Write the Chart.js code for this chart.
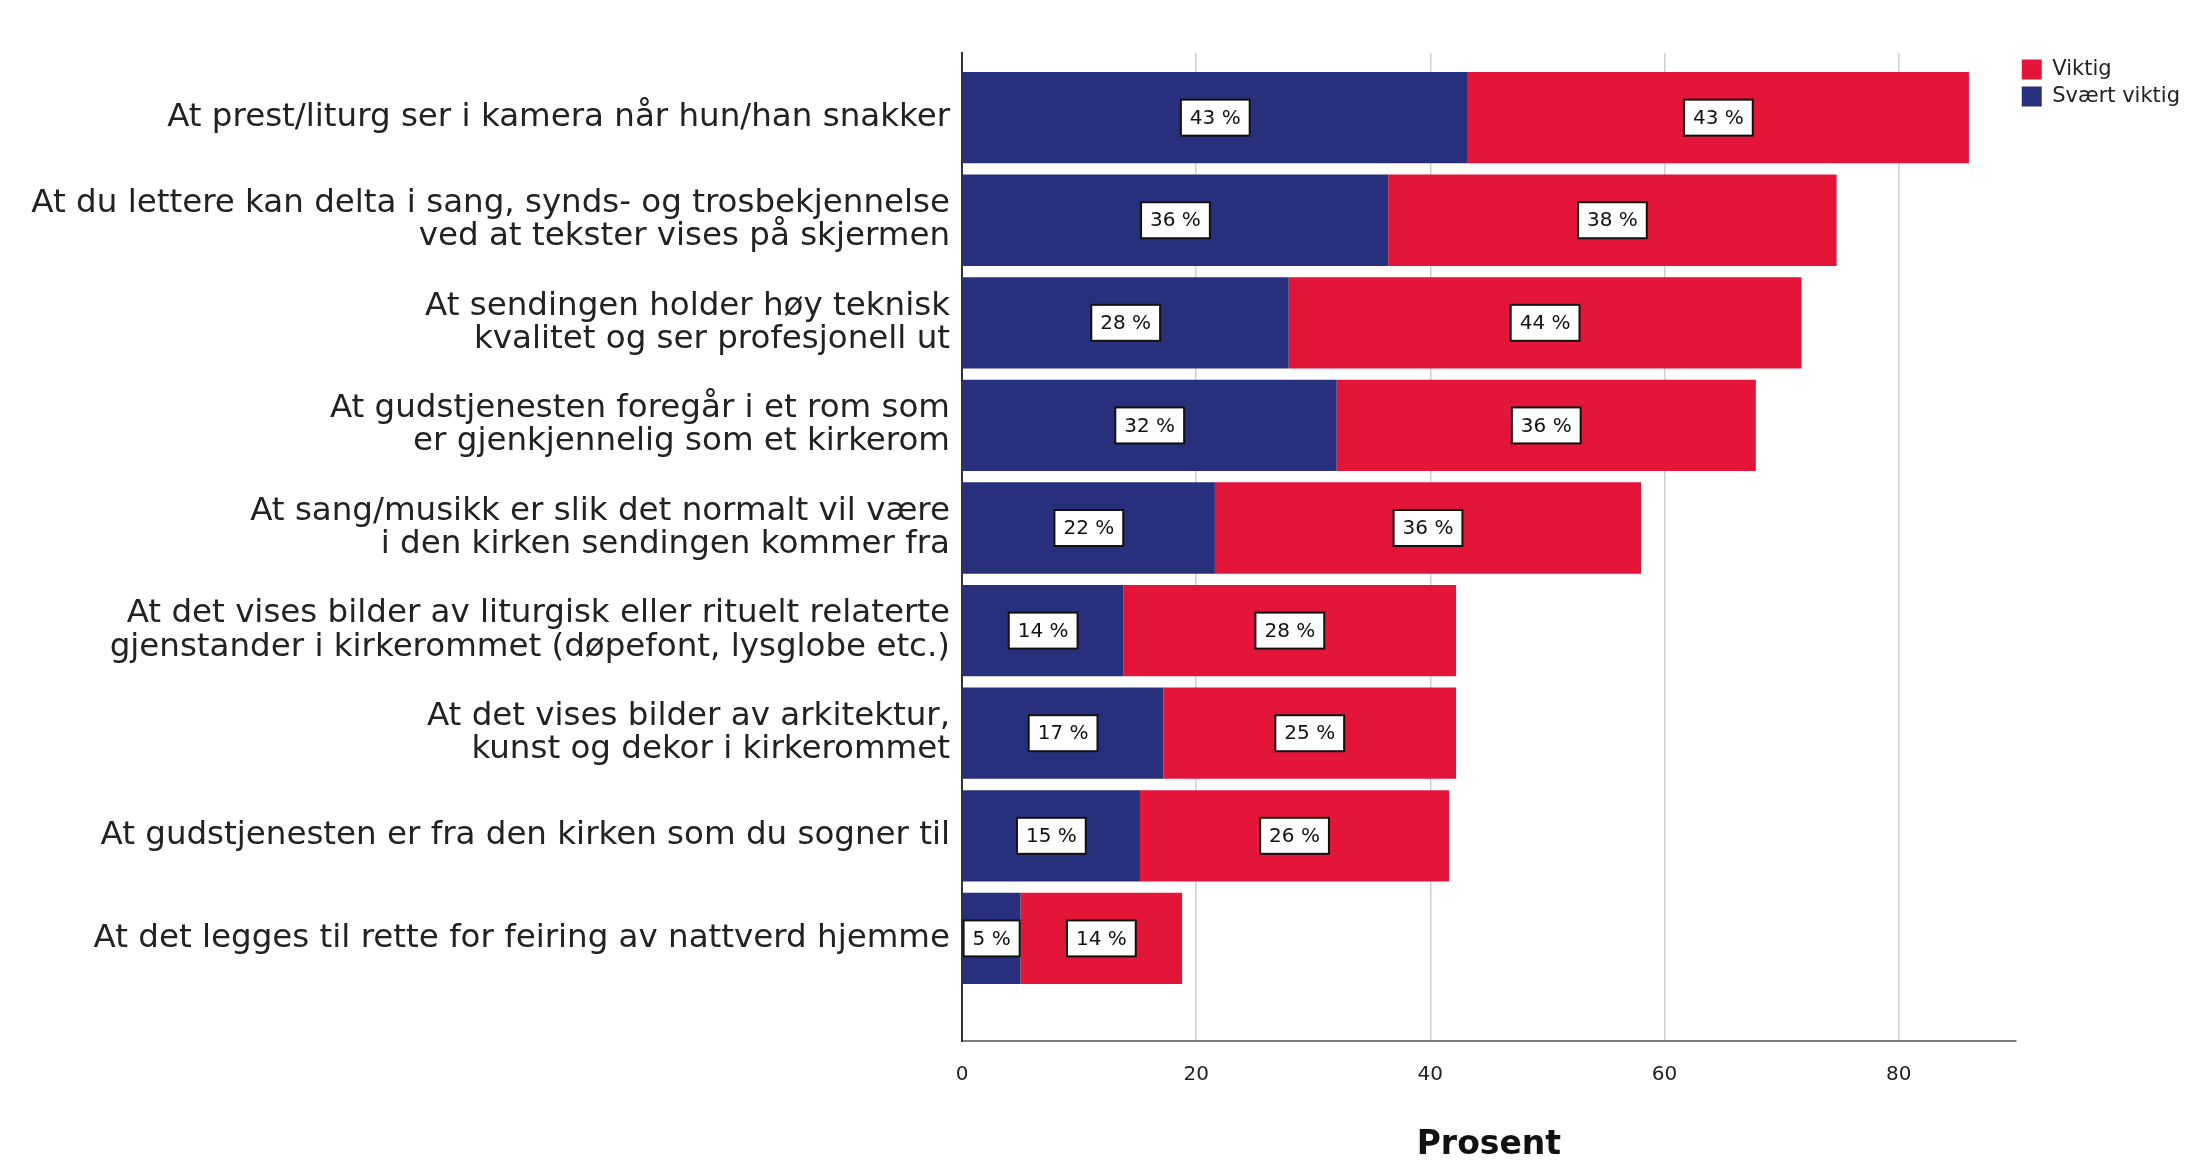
<!DOCTYPE html>
<html>
<head>
<meta charset="utf-8">
<script src="https://cdn.jsdelivr.net/npm/chart.js@4.4.0/dist/chart.umd.min.js"></script>
<style>
  html, body { margin: 0; padding: 0; background: #fff; }
  #wrap { width: 2190px; height: 1162px; position: relative; }
</style>
</head>
<body>
<div id="wrap"><canvas id="chart"></canvas></div>
<script>
// kategorier (øverst til nederst)
const categories = [
  ['At prest/liturg ser i kamera når hun/han snakker'],
  ['At du lettere kan delta i sang, synds- og trosbekjennelse', 'ved at tekster vises på skjermen'],
  ['At sendingen holder høy teknisk', 'kvalitet og ser profesjonell ut'],
  ['At gudstjenesten foregår i et rom som', 'er gjenkjennelig som et kirkerom'],
  ['At sang/musikk er slik det normalt vil være', 'i den kirken sendingen kommer fra'],
  ['At det vises bilder av liturgisk eller rituelt relaterte', 'gjenstander i kirkerommet (døpefont, lysglobe etc.)'],
  ['At det vises bilder av arkitektur,', 'kunst og dekor i kirkerommet'],
  ['At gudstjenesten er fra den kirken som du sogner til'],
  ['At det legges til rette for feiring av nattverd hjemme']
];

// prosent
const svaertViktig = [43.2, 36.4, 27.9, 32.0, 21.6, 13.8, 17.2, 15.2, 5.0];
const viktig = [42.8, 38.3, 43.8, 35.8, 36.4, 28.4, 25.0, 26.4, 13.8];

const xTicks = [0, 20, 40, 60, 80];

const BLUE = '#28307d';
const RED = '#e3163a';
const FONT = '"DejaVu Sans", "Liberation Sans", Arial, sans-serif';

// hvite bokser med prosent midt i hvert segment
const boxLabels = {
  id: 'boxLabels',
  afterDatasetsDraw(chart) {
    const ctx = chart.ctx;
    ctx.save();
    ctx.font = '20px ' + FONT;
    ctx.textAlign = 'center';
    ctx.textBaseline = 'middle';
    chart.data.datasets.forEach((ds, di) => {
      const meta = chart.getDatasetMeta(di);
      meta.data.forEach((bar, i) => {
        const p = bar.getProps(['x', 'y', 'base'], true);
        const cx = (p.x + p.base) / 2;
        const txt = Math.round(ds.data[i].x) + ' %';
        const w = ctx.measureText(txt).width + 18;
        const h = 36;
        ctx.fillStyle = '#fff';
        ctx.fillRect(cx - w / 2, p.y - h / 2, w, h);
        ctx.strokeStyle = '#111';
        ctx.lineWidth = 2;
        ctx.strokeRect(cx - w / 2, p.y - h / 2, w, h);
        ctx.fillStyle = '#111';
        ctx.fillText(txt, cx, p.y + 1);
      });
    });
    ctx.restore();
  }
};

new Chart(document.getElementById('chart'), {
  type: 'bar',
  data: {
    datasets: [
      {
        label: 'Svært viktig',
        data: svaertViktig.map((v, i) => ({ x: v, y: i })),
        backgroundColor: BLUE
      },
      {
        label: 'Viktig',
        data: viktig.map((v, i) => ({ x: v, y: i })),
        backgroundColor: RED
      }
    ]
  },
  options: {
    indexAxis: 'y',
    responsive: true,
    maintainAspectRatio: false,
    animation: false,
    barPercentage: 0.89,
    categoryPercentage: 1,
    layout: { padding: { top: 53, left: 0, right: 0, bottom: 0 } },
    scales: {
      x: {
        stacked: true,
        min: 0,
        max: 90,
        afterBuildTicks: scale => { scale.ticks = xTicks.map(v => ({ value: v })); },
        grid: { color: '#cfcfcf', lineWidth: 1.5, drawTicks: false },
        border: { color: '#7a7a7a', width: 2 },
        ticks: { color: '#222', font: { family: FONT, size: 20 }, padding: 22 },
        title: {
          display: true,
          text: 'Prosent',
          color: '#111',
          font: { family: FONT, size: 33, weight: 'bold', lineHeight: 1.0 },
          padding: { top: 20, bottom: 0 }
        }
      },
      y: {
        type: 'linear',
        stacked: true,
        reverse: true,
        offset: false,
        min: -0.63,
        max: 9.0,
        afterBuildTicks: scale => { scale.ticks = categories.map((c, i) => ({ value: i })); },
        afterFit: scale => { scale.width = 962; },
        grid: { display: false, drawTicks: false },
        border: { color: '#333', width: 2 },
        ticks: {
          color: '#222',
          font: { family: FONT, size: 32.5, lineHeight: 1.02 },
          padding: 12,
          callback: v => categories[v]
        }
      }
    },
    plugins: {
      legend: {
        position: 'right',
        align: 'start',
        reverse: true,
        labels: {
          boxWidth: 20,
          boxHeight: 20,
          padding: 6,
          color: '#222',
          font: { family: FONT, size: 21 }
        }
      },
      tooltip: { enabled: false }
    }
  },
  plugins: [boxLabels]
});
</script>
</body>
</html>
